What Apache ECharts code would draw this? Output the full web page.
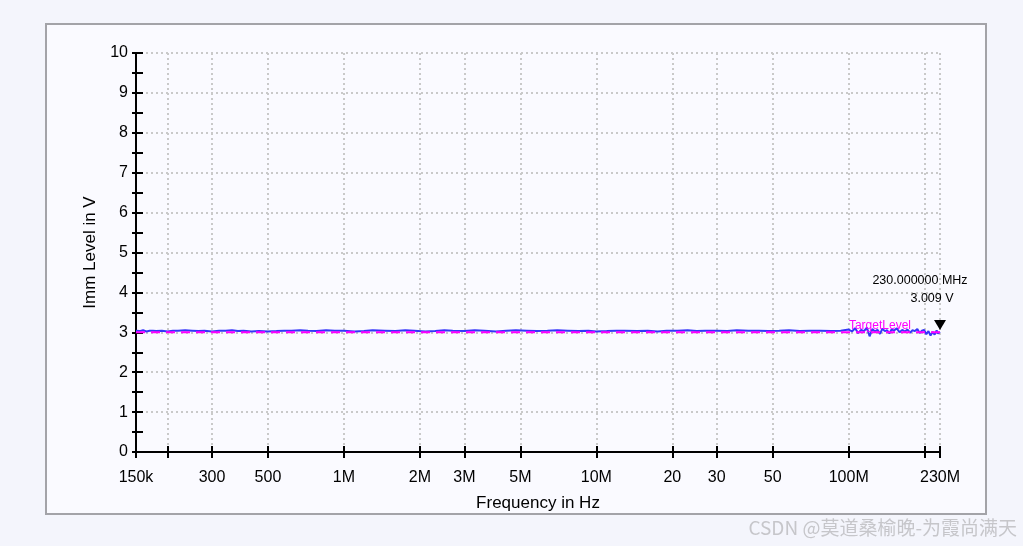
<!DOCTYPE html>
<html>
<head>
<meta charset="utf-8">
<script src="https://cdn.jsdelivr.net/npm/echarts@6/dist/echarts.min.js"></script>
<style>
html,body{margin:0;padding:0;background:#f4f5fc;}
#chart{width:1023px;height:546px;}
</style>
</head>
<body>
<div id="chart"></div>
<script>
// ---- data ----
const FREQ_HZ = [
  150e3,155e3,160e3,165e3,170e3,175e3,180e3,190e3,200e3,210e3,220e3,235e3,250e3,265e3,280e3,
  300e3,320e3,340e3,360e3,380e3,400e3,430e3,460e3,500e3,540e3,580e3,620e3,670e3,720e3,780e3,
  850e3,920e3,1.0e6,1.1e6,1.2e6,1.3e6,1.45e6,1.6e6,1.75e6,1.9e6,2.1e6,2.3e6,2.5e6,2.7e6,3.0e6,
  3.3e6,3.6e6,4.0e6,4.4e6,4.8e6,5.3e6,5.8e6,6.4e6,7.0e6,7.7e6,8.5e6,9.3e6,10e6,11e6,12e6,
  13e6,14.5e6,16e6,17.5e6,19e6,21e6,23e6,25e6,27e6,30e6,33e6,36e6,40e6,44e6,48e6,
  53e6,58e6,64e6,70e6,77e6,85e6,93e6,100e6,103e6,106e6,109e6,112e6,115e6,118e6,121e6,
  124e6,127e6,130e6,133e6,136e6,139e6,142e6,145e6,148e6,151e6,155e6,159e6,163e6,167e6,171e6,
  175e6,179e6,183e6,187e6,191e6,195e6,199e6,203e6,207e6,211e6,215e6,219e6,223e6,226e6,230e6
];
const LEVEL_V = [
  3.04,3.03,3.05,3.02,3.04,3.04,3.03,3.04,3.02,3.04,3.04,3.05,3.04,3.03,3.04,
  3.02,3.04,3.04,3.05,3.03,3.04,3.02,3.03,3.02,3.03,3.04,3.04,3.05,3.04,3.03,
  3.05,3.04,3.04,3.02,3.03,3.05,3.04,3.03,3.05,3.04,3.02,3.03,3.05,3.04,3.03,
  3.05,3.04,3.02,3.04,3.05,3.04,3.03,3.04,3.05,3.04,3.03,3.04,3.02,3.03,3.04,
  3.04,3.03,3.04,3.02,3.04,3.04,3.05,3.03,3.04,3.04,3.03,3.05,3.04,3.04,3.03,
  3.04,3.05,3.03,3.04,3.04,3.03,3.04,3.07,3.02,3.10,2.98,3.06,3.03,3.12,2.90,
  3.08,3.02,3.06,2.96,3.09,3.03,3.05,2.97,3.08,3.04,3.10,3.00,3.06,3.02,3.07,
  2.99,3.05,3.03,3.08,2.98,3.04,3.06,2.95,3.03,2.92,3.01,2.94,3.05,2.97,3.009
];
const TARGET_FREQ_HZ = [150e3, 230e6];
const TARGET_LEVEL_V = [3.0, 3.0];
const TARGET_LABEL = 'TargetLevel';
const TARGET_LABEL_FREQ = 133e6;

const X_TICKS_HZ = [150e3,200e3,300e3,500e3,1e6,2e6,3e6,5e6,10e6,20e6,30e6,50e6,100e6,200e6,230e6];
const X_TICK_LABELS = ['150k','','300','500','1M','2M','3M','5M','10M','20','30','50','100M','','230M'];
const X_MIN_HZ = 150e3, X_MAX_HZ = 230e6;
const Y_MIN = 0, Y_MAX = 10, Y_STEP = 1;

const MARKER_FREQ_HZ = 230e6;
const MARKER_LEVEL_V = 3.009;
const MARKER_TEXT_FREQ = '230.000000 MHz';
const MARKER_TEXT_LEVEL = '3.009 V';

const X_TITLE = 'Frequency in Hz';
const Y_TITLE = 'Imm Level in V';
const WATERMARK = 'CSDN @莫道桑榆晚-为霞尚满天';

// ---- build ----
const lg = v => Math.log10(v);
const xTickVals = X_TICKS_HZ.map(lg);
const xLabelVals = xTickVals.filter((v, i) => X_TICK_LABELS[i] !== '');
function xLabelFmt(v) {
  for (let i = 0; i < xTickVals.length; i++) {
    if (Math.abs(xTickVals[i] - v) < 1e-6) return X_TICK_LABELS[i];
  }
  return '';
}
const blueData = FREQ_HZ.map((f, i) => [lg(f), LEVEL_V[i]]);
const targetData = TARGET_FREQ_HZ.map((f, i) => [lg(f), TARGET_LEVEL_V[i]]);

const FONT = 'Liberation Sans, Arial, sans-serif';
const gridLine = {show: true, lineStyle: {color: '#c9c9c9', width: 2, type: [2, 3]}};

const chart = echarts.init(document.getElementById('chart'), null, {renderer: 'canvas'});
chart.setOption({
  backgroundColor: '#f4f5fc',
  animation: false,
  graphic: [
    {type: 'rect', z: -10, shape: {x: 46, y: 24, width: 940, height: 490},
     style: {fill: '#fafaff', stroke: '#a3a3a8', lineWidth: 2}},
    {type: 'text', right: 6, bottom: 9, z: 10,
     style: {text: WATERMARK, fill: '#c6c6ca', font: '19px "Noto Sans CJK SC", sans-serif'}}
  ],
  grid: {left: 136, right: 83, top: 53, bottom: 94},
  xAxis: [
    {
      type: 'value', min: lg(X_MIN_HZ), max: lg(X_MAX_HZ),
      name: X_TITLE, nameLocation: 'middle', nameGap: 43,
      nameTextStyle: {fontSize: 17, color: '#000', fontFamily: FONT},
      axisLine: {show: true, onZero: false, lineStyle: {color: '#000', width: 2}},
      axisTick: {show: true, inside: true, length: 6, customValues: xTickVals, lineStyle: {color: '#000', width: 2}},
      axisLabel: {show: true, customValues: xLabelVals, formatter: xLabelFmt, margin: 18,
                  fontSize: 16, color: '#000', fontFamily: FONT},
      splitLine: gridLine
    },
    {
      type: 'value', min: lg(X_MIN_HZ), max: lg(X_MAX_HZ), position: 'bottom',
      axisLine: {show: false},
      axisTick: {show: true, inside: false, length: 6, customValues: xTickVals, lineStyle: {color: '#000', width: 2}},
      axisLabel: {show: false},
      splitLine: {show: false}
    }
  ],
  yAxis: [
    {
      type: 'value', min: Y_MIN, max: Y_MAX, interval: Y_STEP,
      name: Y_TITLE, nameLocation: 'middle', nameGap: 36,
      nameTextStyle: {fontSize: 17, color: '#000', fontFamily: FONT},
      axisLine: {show: true, onZero: false, lineStyle: {color: '#000', width: 2}},
      axisTick: {show: true, inside: true, length: 7, lineStyle: {color: '#000', width: 2}},
      minorTick: {show: true, splitNumber: 2, length: 7, lineStyle: {color: '#000', width: 2}},
      axisLabel: {fontSize: 16, color: '#000', fontFamily: FONT, margin: 8},
      splitLine: gridLine
    },
    {
      type: 'value', min: Y_MIN, max: Y_MAX, interval: Y_STEP, position: 'left', offset: 0,
      axisLine: {show: false},
      axisTick: {show: true, inside: false, length: 4, lineStyle: {color: '#000', width: 2}},
      minorTick: {show: true, splitNumber: 2, length: 4, lineStyle: {color: '#000', width: 2}},
      axisLabel: {show: false},
      splitLine: {show: false}
    }
  ],
  series: [
    {
      type: 'line', name: 'Level', data: blueData, showSymbol: false, symbol: 'none',
      lineStyle: {color: '#3535fa', width: 2}, z: 3,
      markPoint: {
        data: [
          {coord: [lg(MARKER_FREQ_HZ), MARKER_LEVEL_V], symbol: 'triangle', symbolRotate: 180,
           symbolSize: [12, 10], symbolOffset: [0, -7], itemStyle: {color: '#000'}, label: {show: false}},
          {coord: [lg(MARKER_FREQ_HZ), MARKER_LEVEL_V], symbol: 'circle', symbolSize: 0,
           label: {show: true, formatter: MARKER_TEXT_FREQ, offset: [-20, -51], position: 'inside',
                   fontSize: 12.5, color: '#000', fontFamily: FONT}},
          {coord: [lg(MARKER_FREQ_HZ), MARKER_LEVEL_V], symbol: 'circle', symbolSize: 0,
           label: {show: true, formatter: MARKER_TEXT_LEVEL, offset: [-8, -33], position: 'inside',
                   fontSize: 12.5, color: '#000', fontFamily: FONT}}
        ]
      }
    },
    {
      type: 'line', name: TARGET_LABEL, data: targetData, showSymbol: false, symbol: 'none',
      lineStyle: {color: '#ff00ff', width: 2, type: [9, 6]}, z: 4,
      markPoint: {
        data: [
          {coord: [lg(TARGET_LABEL_FREQ), TARGET_LEVEL_V[0]], symbol: 'circle', symbolSize: 0,
           label: {show: true, formatter: TARGET_LABEL, position: 'inside', offset: [0, -7],
                   fontSize: 12, color: '#ff00ff', fontFamily: FONT}}
        ]
      }
    }
  ]
});
</script>
</body>
</html>
